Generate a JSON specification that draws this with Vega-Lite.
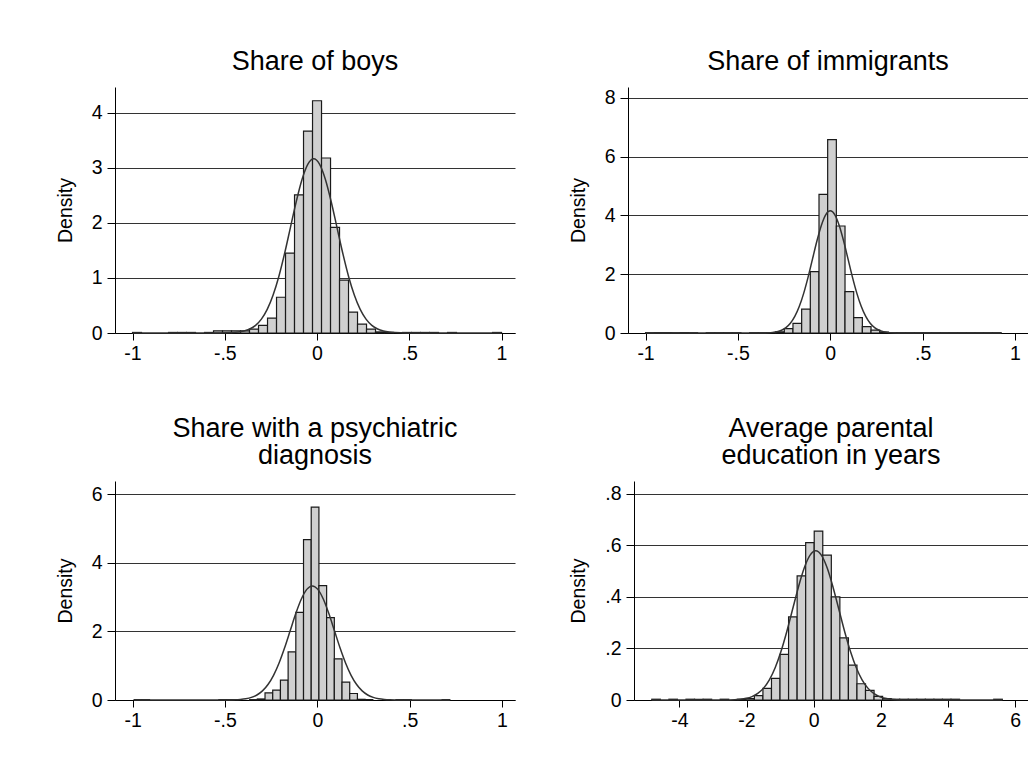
{
  "$schema": "https://vega.github.io/schema/vega-lite/v6.json",
  "background": "white",
  "padding": {"left": 55, "top": 48, "right": 0, "bottom": 0},
  "config": {
    "view": {"stroke": null},
    "font": "Liberation Sans",
    "title": {"fontSize": 27, "fontWeight": "normal", "font": "Liberation Sans", "color": "black", "anchor": "middle", "frame": "group", "offset": 11, "lineHeight": 27},
    "axisY": {"grid": true, "gridColor": "#333333", "gridWidth": 1, "domainColor": "black", "domainWidth": 1, "tickColor": "black", "tickSize": 8, "tickWidth": 1, "labelFontSize": 19.5, "labelFont": "Liberation Sans", "labelColor": "black", "labelPadding": 5, "titleFontSize": 19.5, "titleFont": "Liberation Sans", "titleFontWeight": "normal", "titleColor": "black", "titlePadding": 16, "labelOverlap": false, "labelExpr": "replace(datum.value + '', '0.', '.')"},
    "axisX": {"grid": false, "domainColor": "black", "domainWidth": 1, "tickColor": "black", "tickSize": 7, "tickWidth": 1, "labelFontSize": 19.5, "labelFont": "Liberation Sans", "labelColor": "black", "labelPadding": 4, "labelFlush": false, "labelOverlap": false, "labelExpr": "replace(datum.value + '', '0.', '.')"}
  },
  "datasets": {
    "boysBins": [
      {"lo": -1.0, "hi": -0.9512, "density": 0.01},
      {"lo": -0.8049, "hi": -0.7561, "density": 0.01},
      {"lo": -0.7561, "hi": -0.7073, "density": 0.01},
      {"lo": -0.7073, "hi": -0.6585, "density": 0.01},
      {"lo": -0.6098, "hi": -0.561, "density": 0.01},
      {"lo": -0.561, "hi": -0.5122, "density": 0.04},
      {"lo": -0.5122, "hi": -0.4634, "density": 0.04},
      {"lo": -0.4634, "hi": -0.4146, "density": 0.04},
      {"lo": -0.4146, "hi": -0.3659, "density": 0.04},
      {"lo": -0.3659, "hi": -0.3171, "density": 0.07},
      {"lo": -0.3171, "hi": -0.2683, "density": 0.14},
      {"lo": -0.2683, "hi": -0.2195, "density": 0.27},
      {"lo": -0.2195, "hi": -0.1707, "density": 0.65},
      {"lo": -0.1707, "hi": -0.122, "density": 1.45},
      {"lo": -0.122, "hi": -0.0732, "density": 2.51},
      {"lo": -0.0732, "hi": -0.0244, "density": 3.67},
      {"lo": -0.0244, "hi": 0.0244, "density": 4.22},
      {"lo": 0.0244, "hi": 0.0732, "density": 3.18},
      {"lo": 0.0732, "hi": 0.122, "density": 1.92},
      {"lo": 0.122, "hi": 0.1707, "density": 0.96},
      {"lo": 0.1707, "hi": 0.2195, "density": 0.38},
      {"lo": 0.2195, "hi": 0.2683, "density": 0.16},
      {"lo": 0.2683, "hi": 0.3171, "density": 0.07},
      {"lo": 0.3171, "hi": 0.3659, "density": 0.02},
      {"lo": 0.3659, "hi": 0.4146, "density": 0.01},
      {"lo": 0.4634, "hi": 0.5122, "density": 0.01},
      {"lo": 0.5122, "hi": 0.561, "density": 0.01},
      {"lo": 0.561, "hi": 0.6098, "density": 0.01},
      {"lo": 0.6098, "hi": 0.6585, "density": 0.01},
      {"lo": 0.7073, "hi": 0.7561, "density": 0.01},
      {"lo": 0.9512, "hi": 1.0, "density": 0.01}
    ],
    "boysNormal": [
      {"x": -1.0, "density": 0},
      {"x": -0.522, "density": 0.001},
      {"x": -0.459, "density": 0.0069},
      {"x": -0.4275, "density": 0.0161},
      {"x": -0.396, "density": 0.0352},
      {"x": -0.3645, "density": 0.0721},
      {"x": -0.333, "density": 0.1391},
      {"x": -0.3015, "density": 0.2519},
      {"x": -0.27, "density": 0.4285},
      {"x": -0.2385, "density": 0.6848},
      {"x": -0.207, "density": 1.028},
      {"x": -0.1755, "density": 1.4497},
      {"x": -0.144, "density": 1.9205},
      {"x": -0.1125, "density": 2.3901},
      {"x": -0.081, "density": 2.7944},
      {"x": -0.0495, "density": 3.069},
      {"x": -0.018, "density": 3.1664},
      {"x": 0.0135, "density": 3.069},
      {"x": 0.045, "density": 2.7944},
      {"x": 0.0765, "density": 2.3901},
      {"x": 0.108, "density": 1.9205},
      {"x": 0.1395, "density": 1.4497},
      {"x": 0.171, "density": 1.028},
      {"x": 0.2025, "density": 0.6848},
      {"x": 0.234, "density": 0.4285},
      {"x": 0.2655, "density": 0.2519},
      {"x": 0.297, "density": 0.1391},
      {"x": 0.3285, "density": 0.0721},
      {"x": 0.36, "density": 0.0352},
      {"x": 0.3915, "density": 0.0161},
      {"x": 0.423, "density": 0.0069},
      {"x": 0.486, "density": 0.001},
      {"x": 1.0, "density": 0}
    ],
    "immBins": [
      {"lo": -1.0, "hi": -0.9531, "density": 0.01},
      {"lo": -0.9531, "hi": -0.9061, "density": 0.01},
      {"lo": -0.9061, "hi": -0.8592, "density": 0.01},
      {"lo": -0.8592, "hi": -0.8122, "density": 0.01},
      {"lo": -0.8122, "hi": -0.7653, "density": 0.01},
      {"lo": -0.7653, "hi": -0.7183, "density": 0.01},
      {"lo": -0.6714, "hi": -0.6244, "density": 0.01},
      {"lo": -0.6244, "hi": -0.5775, "density": 0.01},
      {"lo": -0.5775, "hi": -0.5305, "density": 0.01},
      {"lo": -0.5305, "hi": -0.4836, "density": 0.01},
      {"lo": -0.4366, "hi": -0.3897, "density": 0.01},
      {"lo": -0.3897, "hi": -0.3427, "density": 0.01},
      {"lo": -0.3427, "hi": -0.2958, "density": 0.01},
      {"lo": -0.2958, "hi": -0.2488, "density": 0.04},
      {"lo": -0.2488, "hi": -0.2019, "density": 0.15},
      {"lo": -0.2019, "hi": -0.1549, "density": 0.33},
      {"lo": -0.1549, "hi": -0.108, "density": 0.81},
      {"lo": -0.108, "hi": -0.061, "density": 2.09},
      {"lo": -0.061, "hi": -0.0141, "density": 4.72},
      {"lo": -0.0141, "hi": 0.0329, "density": 6.58},
      {"lo": 0.0329, "hi": 0.0798, "density": 3.64},
      {"lo": 0.0798, "hi": 0.1268, "density": 1.41},
      {"lo": 0.1268, "hi": 0.1737, "density": 0.52},
      {"lo": 0.1737, "hi": 0.2207, "density": 0.22},
      {"lo": 0.2207, "hi": 0.2676, "density": 0.1},
      {"lo": 0.2676, "hi": 0.3146, "density": 0.03},
      {"lo": 0.3146, "hi": 0.3615, "density": 0.01},
      {"lo": 0.3615, "hi": 0.4085, "density": 0.01},
      {"lo": 0.4085, "hi": 0.4554, "density": 0.01},
      {"lo": 0.4554, "hi": 0.5024, "density": 0.01},
      {"lo": 0.5024, "hi": 0.5493, "density": 0.01},
      {"lo": 0.5493, "hi": 0.5963, "density": 0.01},
      {"lo": 0.5963, "hi": 0.6432, "density": 0.01},
      {"lo": 0.6432, "hi": 0.6902, "density": 0.01},
      {"lo": 0.6902, "hi": 0.7371, "density": 0.01},
      {"lo": 0.7371, "hi": 0.7841, "density": 0.01},
      {"lo": 0.7841, "hi": 0.831, "density": 0.01},
      {"lo": 0.831, "hi": 0.878, "density": 0.01},
      {"lo": 0.878, "hi": 0.925, "density": 0.01}
    ],
    "immNormal": [
      {"x": -1.0, "density": 0},
      {"x": -0.384, "density": 0.0014},
      {"x": -0.336, "density": 0.0091},
      {"x": -0.312, "density": 0.0211},
      {"x": -0.288, "density": 0.0461},
      {"x": -0.264, "density": 0.0947},
      {"x": -0.24, "density": 0.1826},
      {"x": -0.216, "density": 0.3306},
      {"x": -0.192, "density": 0.5624},
      {"x": -0.168, "density": 0.8988},
      {"x": -0.144, "density": 1.3492},
      {"x": -0.12, "density": 1.9026},
      {"x": -0.096, "density": 2.5205},
      {"x": -0.072, "density": 3.1369},
      {"x": -0.048, "density": 3.6674},
      {"x": -0.024, "density": 4.0278},
      {"x": 0.0, "density": 4.1557},
      {"x": 0.024, "density": 4.0278},
      {"x": 0.048, "density": 3.6674},
      {"x": 0.072, "density": 3.1369},
      {"x": 0.096, "density": 2.5205},
      {"x": 0.12, "density": 1.9026},
      {"x": 0.144, "density": 1.3492},
      {"x": 0.168, "density": 0.8988},
      {"x": 0.192, "density": 0.5624},
      {"x": 0.216, "density": 0.3306},
      {"x": 0.24, "density": 0.1826},
      {"x": 0.264, "density": 0.0947},
      {"x": 0.288, "density": 0.0461},
      {"x": 0.312, "density": 0.0211},
      {"x": 0.336, "density": 0.0091},
      {"x": 0.384, "density": 0.0014},
      {"x": 0.925, "density": 0}
    ],
    "psychBins": [
      {"lo": -0.992, "hi": -0.9503, "density": 0.01},
      {"lo": -0.9503, "hi": -0.9086, "density": 0.01},
      {"lo": -0.5333, "hi": -0.4916, "density": 0.01},
      {"lo": -0.4916, "hi": -0.4499, "density": 0.01},
      {"lo": -0.3665, "hi": -0.3248, "density": 0.01},
      {"lo": -0.3248, "hi": -0.2831, "density": 0.03},
      {"lo": -0.2831, "hi": -0.2414, "density": 0.21},
      {"lo": -0.2414, "hi": -0.1997, "density": 0.29},
      {"lo": -0.1997, "hi": -0.158, "density": 0.58},
      {"lo": -0.158, "hi": -0.1163, "density": 1.4},
      {"lo": -0.1163, "hi": -0.0746, "density": 2.55},
      {"lo": -0.0746, "hi": -0.0329, "density": 4.67},
      {"lo": -0.0329, "hi": 0.0088, "density": 5.62},
      {"lo": 0.0088, "hi": 0.0505, "density": 3.33},
      {"lo": 0.0505, "hi": 0.0922, "density": 2.4},
      {"lo": 0.0922, "hi": 0.1339, "density": 1.2},
      {"lo": 0.1339, "hi": 0.1756, "density": 0.52},
      {"lo": 0.1756, "hi": 0.2173, "density": 0.19},
      {"lo": 0.2173, "hi": 0.259, "density": 0.02},
      {"lo": 0.259, "hi": 0.3007, "density": 0.01},
      {"lo": 0.4258, "hi": 0.4675, "density": 0.01},
      {"lo": 0.4675, "hi": 0.5092, "density": 0.01},
      {"lo": 0.676, "hi": 0.7177, "density": 0.01}
    ],
    "psychNormal": [
      {"x": -0.992, "density": 0},
      {"x": -0.507, "density": 0.0011},
      {"x": -0.447, "density": 0.0073},
      {"x": -0.417, "density": 0.0169},
      {"x": -0.387, "density": 0.0369},
      {"x": -0.357, "density": 0.0758},
      {"x": -0.327, "density": 0.1461},
      {"x": -0.297, "density": 0.2645},
      {"x": -0.267, "density": 0.4499},
      {"x": -0.237, "density": 0.719},
      {"x": -0.207, "density": 1.0793},
      {"x": -0.177, "density": 1.5221},
      {"x": -0.147, "density": 2.0164},
      {"x": -0.117, "density": 2.5095},
      {"x": -0.087, "density": 2.9339},
      {"x": -0.057, "density": 3.2222},
      {"x": -0.027, "density": 3.3245},
      {"x": 0.003, "density": 3.2222},
      {"x": 0.033, "density": 2.9339},
      {"x": 0.063, "density": 2.5095},
      {"x": 0.093, "density": 2.0164},
      {"x": 0.123, "density": 1.5221},
      {"x": 0.153, "density": 1.0793},
      {"x": 0.183, "density": 0.719},
      {"x": 0.213, "density": 0.4499},
      {"x": 0.243, "density": 0.2645},
      {"x": 0.273, "density": 0.1461},
      {"x": 0.303, "density": 0.0758},
      {"x": 0.333, "density": 0.0369},
      {"x": 0.363, "density": 0.0169},
      {"x": 0.393, "density": 0.0073},
      {"x": 0.453, "density": 0.0011},
      {"x": 0.7177, "density": 0}
    ],
    "eduBins": [
      {"lo": -4.82, "hi": -4.5655, "density": 0.003},
      {"lo": -4.311, "hi": -4.0565, "density": 0.003},
      {"lo": -3.802, "hi": -3.5475, "density": 0.003},
      {"lo": -3.5475, "hi": -3.293, "density": 0.003},
      {"lo": -3.293, "hi": -3.0385, "density": 0.003},
      {"lo": -2.784, "hi": -2.5295, "density": 0.003},
      {"lo": -2.275, "hi": -2.0205, "density": 0.003},
      {"lo": -2.0205, "hi": -1.766, "density": 0.005},
      {"lo": -1.766, "hi": -1.5115, "density": 0.017},
      {"lo": -1.5115, "hi": -1.257, "density": 0.045},
      {"lo": -1.257, "hi": -1.0025, "density": 0.084},
      {"lo": -1.0025, "hi": -0.748, "density": 0.177},
      {"lo": -0.748, "hi": -0.4935, "density": 0.322},
      {"lo": -0.4935, "hi": -0.239, "density": 0.481},
      {"lo": -0.239, "hi": 0.0155, "density": 0.61},
      {"lo": 0.0155, "hi": 0.27, "density": 0.655},
      {"lo": 0.27, "hi": 0.5245, "density": 0.562},
      {"lo": 0.5245, "hi": 0.779, "density": 0.4},
      {"lo": 0.779, "hi": 1.0335, "density": 0.241},
      {"lo": 1.0335, "hi": 1.288, "density": 0.135},
      {"lo": 1.288, "hi": 1.5425, "density": 0.063},
      {"lo": 1.5425, "hi": 1.797, "density": 0.037},
      {"lo": 1.797, "hi": 2.0515, "density": 0.014},
      {"lo": 2.0515, "hi": 2.306, "density": 0.005},
      {"lo": 2.306, "hi": 2.5605, "density": 0.003},
      {"lo": 2.5605, "hi": 2.815, "density": 0.003},
      {"lo": 2.815, "hi": 3.0695, "density": 0.003},
      {"lo": 3.0695, "hi": 3.324, "density": 0.003},
      {"lo": 3.324, "hi": 3.5785, "density": 0.003},
      {"lo": 3.5785, "hi": 3.833, "density": 0.003},
      {"lo": 3.833, "hi": 4.0875, "density": 0.003},
      {"lo": 4.0875, "hi": 4.342, "density": 0.003},
      {"lo": 5.36, "hi": 5.6145, "density": 0.003}
    ],
    "eduNormal": [
      {"x": -4.82, "density": 0},
      {"x": -2.7, "density": 0.0002},
      {"x": -2.355, "density": 0.0013},
      {"x": -2.1825, "density": 0.0029},
      {"x": -2.01, "density": 0.0064},
      {"x": -1.8375, "density": 0.0132},
      {"x": -1.665, "density": 0.0254},
      {"x": -1.4925, "density": 0.046},
      {"x": -1.32, "density": 0.0782},
      {"x": -1.1475, "density": 0.125},
      {"x": -0.975, "density": 0.1877},
      {"x": -0.8025, "density": 0.2647},
      {"x": -0.63, "density": 0.3507},
      {"x": -0.4575, "density": 0.4364},
      {"x": -0.285, "density": 0.5103},
      {"x": -0.1125, "density": 0.5604},
      {"x": 0.06, "density": 0.5782},
      {"x": 0.2325, "density": 0.5604},
      {"x": 0.405, "density": 0.5103},
      {"x": 0.5775, "density": 0.4364},
      {"x": 0.75, "density": 0.3507},
      {"x": 0.9225, "density": 0.2647},
      {"x": 1.095, "density": 0.1877},
      {"x": 1.2675, "density": 0.125},
      {"x": 1.44, "density": 0.0782},
      {"x": 1.6125, "density": 0.046},
      {"x": 1.785, "density": 0.0254},
      {"x": 1.9575, "density": 0.0132},
      {"x": 2.13, "density": 0.0064},
      {"x": 2.3025, "density": 0.0029},
      {"x": 2.475, "density": 0.0013},
      {"x": 2.82, "density": 0.0002},
      {"x": 5.6145, "density": 0}
    ]
  },
  "columns": 2,
  "align": "none",
  "bounds": "full",
  "spacing": {"row": 52, "column": 53},
  "concat": [
    {
      "width": 400,
      "height": 246,
      "title": {"text": "Share of boys"},
      "layer": [
        {
          "data": {"name": "boysBins"},
          "mark": {"type": "bar", "fill": "#d0d0d0", "stroke": "#1a1a1a", "strokeWidth": 1.2},
          "encoding": {
            "x": {"field": "lo", "type": "quantitative", "title": null, "scale": {"domain": [-1.095, 1.073], "nice": false, "zero": false, "padding": 0}, "axis": {"values": [-1, -0.5, 0, 0.5, 1]}},
            "x2": {"field": "hi"},
            "y": {"field": "density", "type": "quantitative", "title": "Density", "scale": {"domain": [0, 4.47], "nice": false, "padding": 0}, "axis": {"values": [0, 1, 2, 3, 4]}},
            "y2": {"datum": 0}
          }
        },
        {
          "data": {"name": "boysNormal"},
          "mark": {"type": "line", "color": "#333333", "strokeWidth": 1.5, "interpolate": "monotone"},
          "encoding": {
            "x": {"field": "x", "type": "quantitative", "title": null},
            "y": {"field": "density", "type": "quantitative", "title": "Density"}
          }
        }
      ]
    },
    {
      "width": 400,
      "height": 246,
      "title": {"text": "Share of immigrants"},
      "layer": [
        {
          "data": {"name": "immBins"},
          "mark": {"type": "bar", "fill": "#d0d0d0", "stroke": "#1a1a1a", "strokeWidth": 1.2},
          "encoding": {
            "x": {"field": "lo", "type": "quantitative", "title": null, "scale": {"domain": [-1.095, 1.0704], "nice": false, "zero": false, "padding": 0}, "axis": {"values": [-1, -0.5, 0, 0.5, 1]}},
            "x2": {"field": "hi"},
            "y": {"field": "density", "type": "quantitative", "title": "Density", "scale": {"domain": [0, 8.37], "nice": false, "padding": 0}, "axis": {"values": [0, 2, 4, 6, 8]}},
            "y2": {"datum": 0}
          }
        },
        {
          "data": {"name": "immNormal"},
          "mark": {"type": "line", "color": "#333333", "strokeWidth": 1.5, "interpolate": "monotone"},
          "encoding": {
            "x": {"field": "x", "type": "quantitative", "title": null},
            "y": {"field": "density", "type": "quantitative", "title": "Density"}
          }
        }
      ]
    },
    {
      "width": 400,
      "height": 219,
      "title": {"text": ["Share with a psychiatric", "diagnosis"]},
      "layer": [
        {
          "data": {"name": "psychBins"},
          "mark": {"type": "bar", "fill": "#d0d0d0", "stroke": "#1a1a1a", "strokeWidth": 1.2},
          "encoding": {
            "x": {"field": "lo", "type": "quantitative", "title": null, "scale": {"domain": [-1.0956, 1.0707], "nice": false, "zero": false, "padding": 0}, "axis": {"values": [-1, -0.5, 0, 0.5, 1]}},
            "x2": {"field": "hi"},
            "y": {"field": "density", "type": "quantitative", "title": "Density", "scale": {"domain": [0, 6.38], "nice": false, "padding": 0}, "axis": {"values": [0, 2, 4, 6]}},
            "y2": {"datum": 0}
          }
        },
        {
          "data": {"name": "psychNormal"},
          "mark": {"type": "line", "color": "#333333", "strokeWidth": 1.5, "interpolate": "monotone"},
          "encoding": {
            "x": {"field": "x", "type": "quantitative", "title": null},
            "y": {"field": "density", "type": "quantitative", "title": "Density"}
          }
        }
      ]
    },
    {
      "width": 394,
      "height": 219,
      "title": {"text": ["Average parental", "education in years"]},
      "layer": [
        {
          "data": {"name": "eduBins"},
          "mark": {"type": "bar", "fill": "#d0d0d0", "stroke": "#1a1a1a", "strokeWidth": 1.2},
          "encoding": {
            "x": {"field": "lo", "type": "quantitative", "title": null, "scale": {"domain": [-5.35, 6.38], "nice": false, "zero": false, "padding": 0}, "axis": {"values": [-4, -2, 0, 2, 4, 6]}},
            "x2": {"field": "hi"},
            "y": {"field": "density", "type": "quantitative", "title": "Density", "scale": {"domain": [0, 0.849], "nice": false, "padding": 0}, "axis": {"values": [0, 0.2, 0.4, 0.6, 0.8]}},
            "y2": {"datum": 0}
          }
        },
        {
          "data": {"name": "eduNormal"},
          "mark": {"type": "line", "color": "#333333", "strokeWidth": 1.5, "interpolate": "monotone"},
          "encoding": {
            "x": {"field": "x", "type": "quantitative", "title": null},
            "y": {"field": "density", "type": "quantitative", "title": "Density"}
          }
        }
      ]
    }
  ]
}
